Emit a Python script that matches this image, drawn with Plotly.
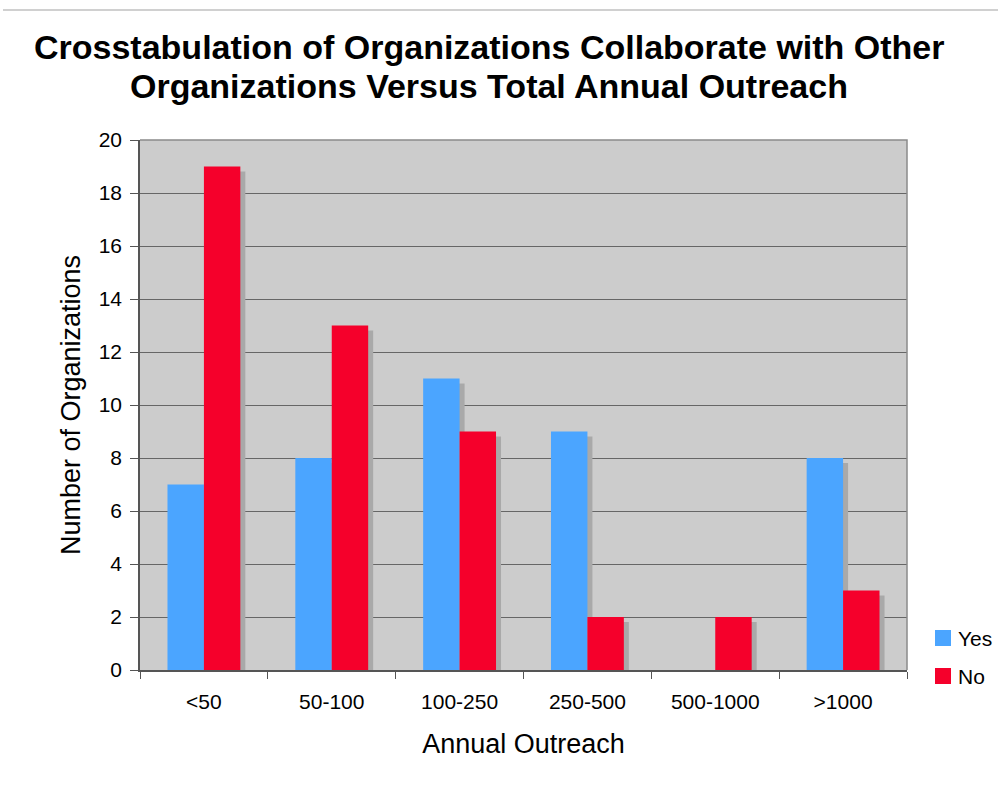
import plotly.graph_objects as go

# Outreach bands and organization counts
categories = ["<50", "50-100", "100-250", "250-500", "500-1000", ">1000"]
yes_counts = [7, 8, 11, 9, 0, 8]
no_counts = [19, 13, 9, 2, 2, 3]
y_ticks = list(range(0, 21, 2))
series_names = ["Yes", "No"]

BLUE = "#4BA5FF"
RED = "#F5002B"
SHADOW = "#A9A9A9"
FONT = "Liberation Sans, Arial, sans-serif"

W, H = 998, 791
ML, MR, MT, MB = 140, 91, 140, 121
PW, PH = W - ML - MR, H - MT - MB
BARGAP = 0.43
bar_w = (1 - BARGAP) / 2
px_per_cat = PW / len(categories)
px_per_unit = PH / 20
dx = 5 / px_per_cat
dy = 5 / px_per_unit


def px_x(px):
    return (px - ML) / PW


def px_y(py):
    return (H - MB - py) / PH


fig = go.Figure()
fig.add_trace(go.Bar(x=categories, y=yes_counts, name=series_names[0],
                     marker_color=BLUE, marker_line_width=0, showlegend=False))
fig.add_trace(go.Bar(x=categories, y=no_counts, name=series_names[1],
                     marker_color=RED, marker_line_width=0, showlegend=False))

# drop shadows behind each bar, offset right/down
shapes = []
for series, offset in ((yes_counts, -bar_w / 2), (no_counts, bar_w / 2)):
    for i, v in enumerate(series):
        if v <= 0:
            continue
        c = i + offset
        shapes.append(dict(type="rect", xref="x", yref="y", layer="between",
                           x0=c - bar_w / 2 + dx, x1=c + bar_w / 2 + dx,
                           y0=0, y1=max(v - dy, 0),
                           fillcolor=SHADOW, line_width=0))

# thin rule across the top of the page
shapes.append(dict(type="line", xref="paper", yref="paper",
                   x0=px_x(3), x1=px_x(W), y0=px_y(10), y1=px_y(10),
                   line=dict(color="#D0D0D0", width=2)))
# frame top and right edges
shapes.append(dict(type="path", xref="paper", yref="paper",
                   path="M 0 1 L 1 1 L 1 0", line=dict(color="#8A8A8A", width=1.5)))

annotations = []
# title, two lines
for text, cy in (("Crosstabulation of Organizations Collaborate with Other", 47),
                 ("Organizations Versus Total Annual Outreach", 86)):
    annotations.append(dict(text=f"<b>{text}</b>", xref="paper", yref="paper",
                            x=px_x(489), y=px_y(cy), xanchor="center", yanchor="middle",
                            showarrow=False, font=dict(size=34, family=FONT, color="black")))

# legend keys
for name, color, cy in ((series_names[0], BLUE, 638), (series_names[1], RED, 676)):
    shapes.append(dict(type="rect", xref="paper", yref="paper",
                       x0=px_x(935), x1=px_x(951), y0=px_y(cy - 8), y1=px_y(cy + 8),
                       fillcolor=color, line_width=0))
    annotations.append(dict(text=name, xref="paper", yref="paper",
                            x=px_x(956), y=px_y(cy), xanchor="left", yanchor="middle",
                            showarrow=False, font=dict(size=21, family=FONT, color="black")))

fig.update_layout(
    width=W, height=H,
    margin=dict(l=ML, r=MR, t=MT, b=MB, autoexpand=False),
    paper_bgcolor="white",
    plot_bgcolor="#CCCCCC",
    barmode="group",
    bargap=BARGAP,
    bargroupgap=0,
    showlegend=False,
    font=dict(family=FONT, color="black", size=21),
    xaxis=dict(
        type="category",
        tickson="boundaries",
        ticks="outside", ticklen=7, tickcolor="#555555",
        showline=True, linecolor="#555555", linewidth=1.5,
        showgrid=False,
        tickfont=dict(size=21),
        ticklabelstandoff=12,
        title=dict(text="Annual Outreach", font=dict(size=27), standoff=22),
    ),
    yaxis=dict(
        range=[0, 20],
        tickvals=y_ticks,
        ticks="outside", ticklen=8, tickcolor="#555555",
        showline=True, linecolor="#555555", linewidth=1.5,
        showgrid=True, gridcolor="#666666", gridwidth=1,
        zeroline=False,
        tickfont=dict(size=21),
        ticklabelstandoff=4,
        title=dict(text="Number of Organizations", font=dict(size=27), standoff=10),
    ),
    shapes=shapes,
    annotations=annotations,
)

fig.write_html("out.html")
